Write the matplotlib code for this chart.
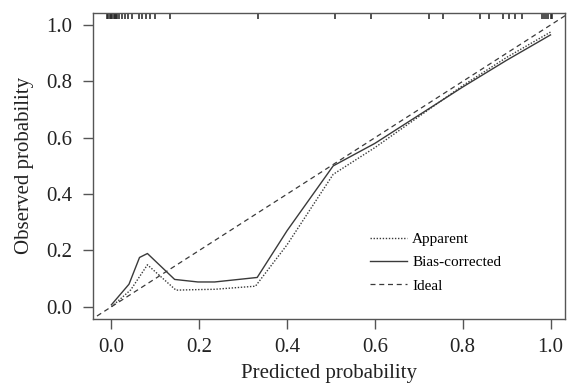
import matplotlib
matplotlib.use("Agg")
import matplotlib.pyplot as plt

plt.rcParams['font.family'] = ['Liberation Serif', 'DejaVu Serif']

# calibration curves
apparent_x = [0.0, 0.044, 0.082, 0.147, 0.20, 0.235, 0.328, 0.40, 0.505, 0.60, 0.70, 0.80, 0.90, 1.0]
apparent_y = [0.0, 0.06, 0.149, 0.059, 0.061, 0.062, 0.073, 0.22, 0.47, 0.565, 0.675, 0.785, 0.885, 0.975]

bias_x = [0.0, 0.04, 0.064, 0.082, 0.144, 0.197, 0.235, 0.332, 0.40, 0.505, 0.60, 0.70, 0.80, 0.90, 1.0]
bias_y = [0.007, 0.08, 0.175, 0.189, 0.097, 0.088, 0.088, 0.104, 0.27, 0.50, 0.58, 0.68, 0.78, 0.875, 0.965]

ideal = [-0.1, 1.1]

# rug of predicted probabilities (events) along the top
rug_x = [-0.01, -0.007, -0.004, -0.001, 0.002, 0.005, 0.008, 0.011, 0.013,
         0.017, 0.023, 0.03, 0.038, 0.048, 0.063, 0.07, 0.078, 0.087, 0.099,
         0.134, 0.333, 0.509, 0.592, 0.724, 0.755, 0.839, 0.86, 0.892, 0.906,
         0.92, 0.934, 0.98, 0.985, 0.99, 0.995, 1.0, 1.004]

col = '#3a3a3a'
fig = plt.figure(figsize=(5.68, 3.89), dpi=100)
ax = fig.add_axes([0.1637, 0.181, 0.831, 0.785])

ax.plot(apparent_x, apparent_y, color=col, lw=1.0, ls=(0, (1.0, 1.2)), label='Apparent')
ax.plot(bias_x, bias_y, color=col, lw=1.0, ls='-', label='Bias-corrected')
ax.plot(ideal, ideal, color=col, lw=0.9, ls=(0, (4, 3)), label='Ideal')

for r in rug_x:
    ax.plot([r, r], [1.042, 1.02], color='#222222', lw=1.1, solid_capstyle='butt')

ax.set_xlim(-0.042, 1.033)
ax.set_ylim(-0.042, 1.042)
ax.set_xticks([0.0, 0.2, 0.4, 0.6, 0.8, 1.0])
ax.set_yticks([0.0, 0.2, 0.4, 0.6, 0.8, 1.0])
ax.set_xticklabels(['0.0', '0.2', '0.4', '0.6', '0.8', '1.0'])
ax.set_yticklabels(['0.0', '0.2', '0.4', '0.6', '0.8', '1.0'])
ax.tick_params(direction='out', length=7, width=1, color='#555555',
               labelsize=15, pad=8, labelcolor='#222222')
ax.tick_params(axis='x', pad=7)
for s in ax.spines.values():
    s.set_color('#555555')
    s.set_linewidth(1)

ax.set_xlabel('Predicted probability', fontsize=15, color='#222222', labelpad=5)
ax.set_ylabel('Observed probability', fontsize=15, color='#222222', labelpad=9)

ax.legend(loc='upper left', bbox_to_anchor=(0.587, 0.282), frameon=False,
          fontsize=11, handlelength=2.4, handletextpad=0.35, labelspacing=0.62,
          borderpad=0, borderaxespad=0)

fig.savefig('out.png', dpi=100)
